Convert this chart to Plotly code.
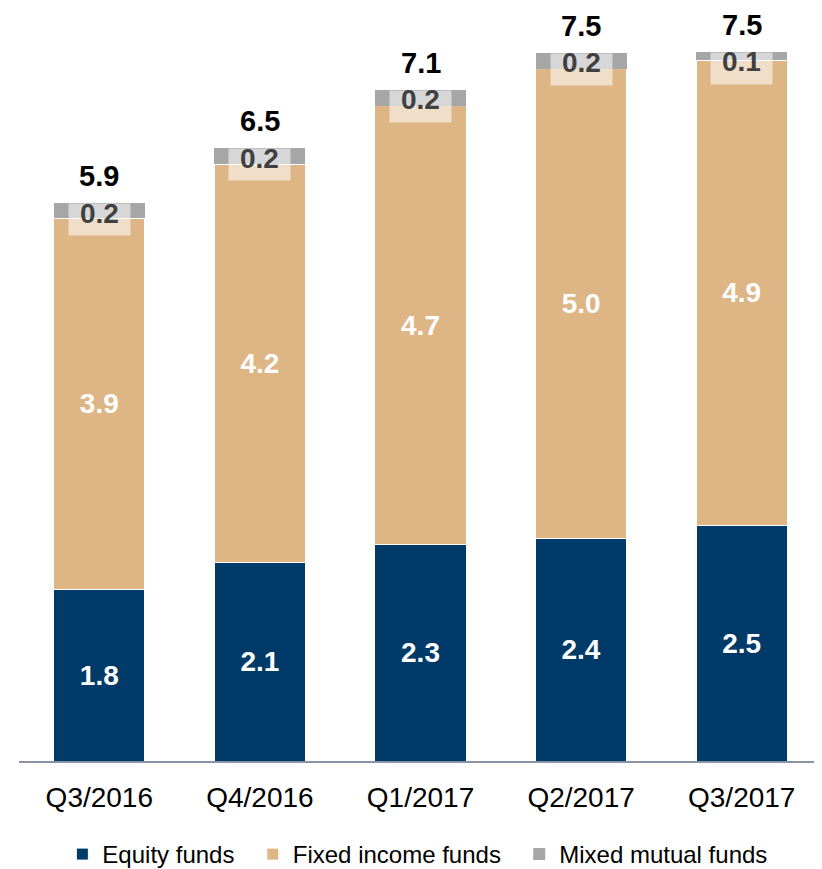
import plotly.graph_objects as go

categories = ["Q3/2016", "Q4/2016", "Q1/2017", "Q2/2017", "Q3/2017"]
# segment heights
equity = [1.81, 2.10, 2.29, 2.35, 2.49]
fixed_income = [3.93, 4.21, 4.64, 4.97, 4.92]
mixed = [0.16, 0.17, 0.17, 0.17, 0.09]
# printed labels
equity_labels = ["1.8", "2.1", "2.3", "2.4", "2.5"]
fixed_income_labels = ["3.9", "4.2", "4.7", "5.0", "4.9"]
mixed_labels = ["0.2", "0.2", "0.2", "0.2", "0.1"]
total_labels = ["5.9", "6.5", "7.1", "7.5", "7.5"]

FONT = "Arial, Liberation Sans, sans-serif"
C_EQ = "#003A68"
C_FI = "#DEB585"
C_MX = "#A6A6A6"
NB = "\u00a0"

fig = go.Figure()
fig.add_trace(go.Bar(
    name="Equity funds" + NB * 2, x=categories, y=equity,
    marker=dict(color=C_EQ, line=dict(color="white", width=1)),
    text=equity_labels, textposition="inside", insidetextanchor="middle",
    textfont=dict(family=FONT, size=28, color="white", weight="bold"), textangle=0,
))
fig.add_trace(go.Bar(
    name="Fixed income funds" + NB * 2, x=categories, y=fixed_income,
    marker=dict(color=C_FI, line=dict(color="white", width=1)),
    text=fixed_income_labels, textposition="inside", insidetextanchor="middle",
    textfont=dict(family=FONT, size=28, color="white", weight="bold"), textangle=0,
))
fig.add_trace(go.Bar(
    name="Mixed mutual funds", x=categories, y=mixed,
    marker=dict(color=C_MX, line=dict(color="white", width=0)),
    hoverinfo="y",
))

for c, e, f, m, ml, tl in zip(categories, equity, fixed_income, mixed, mixed_labels, total_labels):
    top = e + f + m
    fig.add_annotation(
        x=c, y=top, text=" ", showarrow=False, yanchor="top",
        bgcolor="rgba(255,255,255,0.55)", width=61, height=31, borderpad=0,
        font=dict(family=FONT, size=10),
    )
    fig.add_annotation(
        x=c, y=top, text=f"<b>{ml}</b>", showarrow=False, yanchor="middle", yshift=-10,
        font=dict(family=FONT, size=28, color="#404040"),
    )
    fig.add_annotation(
        x=c, y=top, text=f"<b>{tl}</b>", showarrow=False, yanchor="bottom", yshift=9,
        font=dict(family=FONT, size=29, color="black"),
    )

fig.update_layout(
    barmode="stack",
    bargap=0.433,
    width=814, height=869,
    margin=dict(l=11, r=0, t=4, b=108),
    plot_bgcolor="white", paper_bgcolor="white",
    font=dict(family=FONT, color="black"),
    showlegend=True,
    legend=dict(
        orientation="h", x=0.054, xanchor="left", y=-0.125, yanchor="middle",
        font=dict(family=FONT, size=24, color="black"), traceorder="normal",
        itemwidth=30,
    ),
    xaxis=dict(
        showline=True, linecolor="#8A93A5", linewidth=2, ticks="",
        tickfont=dict(family=FONT, size=28, color="black"), ticklabelstandoff=10,
    ),
    yaxis=dict(range=[0, 7.92], visible=False, showgrid=False),
)

fig.write_html("out.html")
